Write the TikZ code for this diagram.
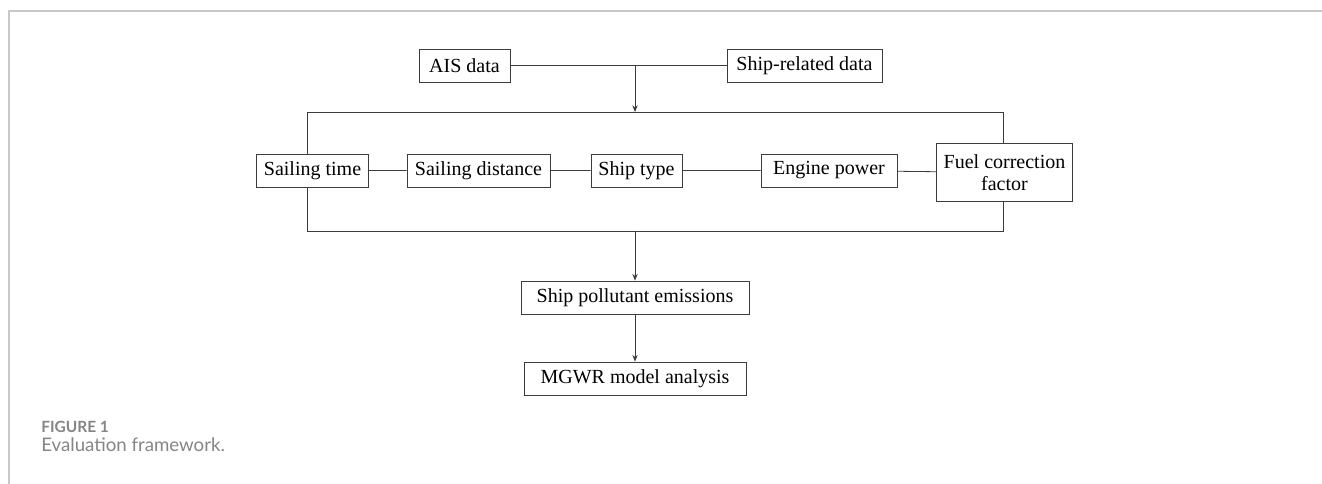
\documentclass[tikz,border=0pt]{standalone}
\usepackage{fontspec}
\setmainfont{Liberation Serif}
\newfontfamily\capfont{Lato}
\usetikzlibrary{arrows.meta}
\definecolor{linegray}{HTML}{3C3C3C}
\definecolor{framegray}{HTML}{C8C8C8}
\definecolor{capgray}{HTML}{858585}
\begin{document}
\begin{tikzpicture}[x=0.75pt,y=-0.75pt,
  box/.style={rectangle,draw=linegray,line width=0.6pt,inner xsep=5.5pt,inner ysep=0pt,
    minimum height=24.75pt,font=\fontsize{15}{17}\selectfont},
  arr/.style={draw=linegray,line width=0.6pt,-{Stealth[length=5pt,width=4pt]}},
  conn/.style={draw=linegray,line width=0.6pt}]

\useasboundingbox (0,0) rectangle (1322,484);
\draw[framegray,line width=1.1pt] (9,484) -- (9,11) -- (1322,11);

\node[box,minimum width=68.25pt] (ais) at (464.5,65.5) {AIS data};
\node[box,minimum width=116.25pt] (srd) at (804.5,65.5) {Ship-related data};

\node[box,minimum width=83.25pt] (st) at (312.5,170.5) {Sailing time};
\node[box,minimum width=107.25pt] (sd) at (478.5,170.5) {Sailing distance};
\node[box,minimum width=68.25pt] (type) at (636.5,170.5) {Ship type};
\node[box,minimum width=102pt] (ep) at (829,170.5) {Engine power};
\node[box,align=center,minimum width=101.25pt,minimum height=44pt] (fc) at (1004.5,172.5) {Fuel correction\\factor};

\node[box,minimum width=171pt] (spe) at (635,297.5) {Ship pollutant emissions};
\node[box,minimum width=166.5pt] (mgwr) at (635,378.5) {MGWR model analysis};

\coordinate (join) at (635,65.5);
\coordinate (tl) at (307,112);
\coordinate (tr) at (1003,112);
\coordinate (bl) at (307,231);
\coordinate (br) at (1003,231);

\draw[conn] (ais) -- (srd);
\draw[arr] (join) -- (join |- tl);
\draw[conn] (st.north -| tl) -- (tl) -- (tr) -- (tr |- fc.north);
\draw[conn] (st.south -| bl) -- (bl) -- (br) -- (br |- fc.south);
\draw[conn] (st) -- (sd) (sd) -- (type) (type) -- (ep) (ep) -- (fc);
\draw[arr] (spe.north |- bl) -- (spe.north);
\draw[arr] (spe) -- (mgwr);

\node[anchor=north west,inner sep=0pt,text=capgray,font=\capfont\bfseries\fontsize{11.6}{13}\selectfont] (fig) at (41,421) {FIGURE 1};
\node[anchor=north west,inner sep=0pt,text=capgray,font=\capfont\fontsize{14}{16}\selectfont] (cap) at (41,437) {Evaluation framework.};

\end{tikzpicture}
\end{document}
